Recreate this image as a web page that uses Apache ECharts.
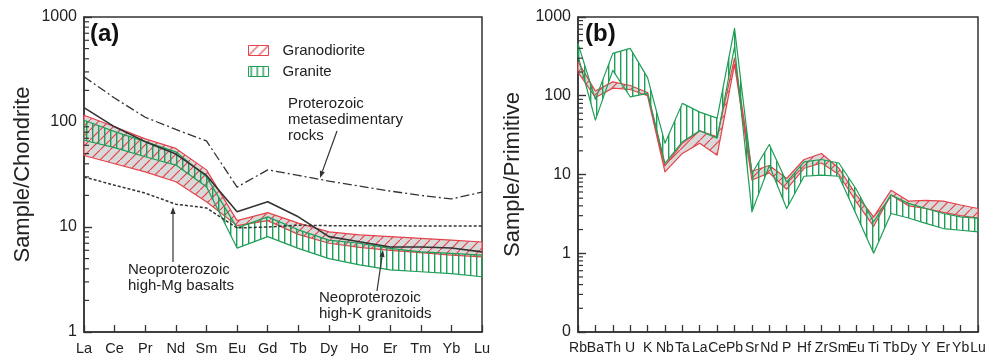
<!DOCTYPE html>
<html><head><meta charset="utf-8">
<script src="https://cdn.jsdelivr.net/npm/echarts@6/dist/echarts.min.js"></script>
<style>html,body{margin:0;padding:0;background:#fff}#c{width:1002px;height:360px}</style>
</head><body><div id="c"></div>
<script>
// ---------- data ----------
const reeCats = ['La','Ce','Pr','Nd','Sm','Eu','Gd','Tb','Dy','Ho','Er','Tm','Yb','Lu'];
const granodioriteReeUpper = [116, 90, 69, 56, 35, 11.5, 13.7, 10.9, 9.0, 8.4, 8.1, 7.8, 7.5, 7.2];
const granodioriteReeLower = [48, 40, 33.5, 27, 17.4, 10.3, 11.5, 8.5, 7.0, 6.4, 6.0, 5.7, 5.4, 5.2];
const graniteReeUpper = [104, 81, 65, 52, 30, 9.8, 12.5, 9.4, 7.5, 7.0, 6.25, 5.8, 5.6, 5.4];
const graniteReeLower = [67, 57, 46.7, 38.9, 24.2, 6.3, 8.1, 6.25, 5.0, 4.35, 3.9, 3.75, 3.6, 3.36];
const metasedRee = [270, 169, 111, 85, 66, 24, 35, 31, 27.4, 24.5, 22, 20, 18.5, 21.5];
const highKGranitoidRee = [137, 90, 65, 49.5, 31, 14, 17.4, 12.5, 8.1, 7.25, 6.45, 6.45, 6.3, 5.8];
const highMgBasaltRee = [30, 25, 21, 16.5, 15.2, 9.8, 10, 10.4, 10.3, 10.3, 10.3, 10.2, 10.2, 10.2];

const spiderCats = ['Rb','Ba','Th','U','K','Nb','Ta','La','Ce','Pb','Sr','Nd','P','Hf','Zr','Sm','Eu','Ti','Tb','Dy','Y','Er','Yb','Lu'];
const granodioriteSpUpper = [270, 115, 150, 135, 110, 13, 25, 36, 30, 300, 11, 13, 8.9, 15.5, 18.5, 12, 5.5, 2.9, 6.3, 4.6, 4.7, 4.6, 4.1, 3.7];
const granodioriteSpLower = [200, 95, 125, 120, 100, 10.8, 18.5, 25, 17.6, 250, 8.5, 10.5, 6.5, 12, 14, 10, 4.5, 2.2, 5.5, 4.0, 3.7, 3.3, 3.0, 2.8];
const graniteSpUpper = [460, 90, 345, 400, 170, 25, 80, 62, 52, 716, 10.3, 24, 8, 14.5, 15.5, 14, 6.5, 2.5, 5.5, 4.3, 3.7, 3.2, 2.9, 2.8];
const graniteSpLower = [320, 49, 210, 97, 107, 13.8, 26, 36, 29, 420, 3.35, 13, 3.7, 9.5, 9.8, 9.5, 3.1, 1.0, 3.2, 2.8, 2.4, 2.06, 1.96, 1.87];

const reeTickValues = [1, 10, 100, 1000];
const reeTickLabels = ['1', '10', '100', '1000'];
const spTickValues = [0.1, 1, 10, 100, 1000];
const spTickLabels = ['0', '1', '10', '100', '1000'];

// ---------- styles ----------
const RED = '#e5424a', GREEN = '#1e9e57', AXIS = '#333333', TXT = '#222';
const FONT = 'Liberation Sans, Arial, Helvetica, sans-serif';

function makeRedPattern(bg) {
  const c = document.createElement('canvas'); c.width = 10; c.height = 10;
  const g = c.getContext('2d');
  if (bg) { g.fillStyle = bg; g.fillRect(0, 0, 10, 10); }
  g.strokeStyle = RED; g.lineWidth = 1.2;
  g.beginPath(); g.moveTo(-1, 11); g.lineTo(11, -1); g.stroke();
  return {image: c, repeat: 'repeat'};
}
function makeGreenPattern() {
  const c = document.createElement('canvas'); c.width = 6; c.height = 6;
  const g = c.getContext('2d');
  g.fillStyle = GREEN; g.fillRect(2, 0, 1.4, 6);
  return {image: c, repeat: 'repeat'};
}
const redPat = makeRedPattern('#d9d9d9'), redLegendPat = makeRedPattern('#ffffff'), greenPat = makeGreenPattern();

function tickFormatter(vals, labels) {
  return function (v) {
    for (let i = 0; i < vals.length; i++) if (Math.abs(Math.log10(v) - Math.log10(vals[i])) < 1e-6) return labels[i];
    return '';
  };
}

function bandSeries(name, idx, cats, upper, lower, pattern, stroke) {
  return {
    type: 'custom', name, xAxisIndex: idx, yAxisIndex: idx,
    data: cats.map((c, i) => [i, upper[i], lower[i]]),
    encode: {x: 0, y: [1, 2]},
    silent: true, z: 2,
    itemStyle: {color: pattern, borderColor: stroke},
    renderItem: function (params, api) {
      if (params.dataIndex !== 0) return null;
      const pts = [];
      for (let i = 0; i < upper.length; i++) pts.push(api.coord([i, upper[i]]));
      for (let i = lower.length - 1; i >= 0; i--) pts.push(api.coord([i, lower[i]]));
      return {type: 'polygon', shape: {points: pts}, style: {fill: pattern, stroke: stroke, lineWidth: 1.2, lineJoin: 'round'}};
    }
  };
}

function lineSeries(data, dash, width) {
  return {type: 'line', xAxisIndex: 0, yAxisIndex: 0, data, symbol: 'none', silent: true, z: 4,
    lineStyle: {color: '#333', width: width, type: dash}};
}

function xAxisCfg(idx, cats, fontSize) {
  return {type: 'category', gridIndex: idx, data: cats, boundaryGap: false,
    axisLine: {show: true, lineStyle: {color: AXIS, width: 1.5}},
    axisTick: {show: true, inside: true, length: 7, lineStyle: {color: AXIS, width: 1.3}},
    axisLabel: {interval: 0, fontSize: fontSize, color: TXT, margin: 9, fontFamily: FONT},
    splitLine: {show: false}};
}
function yAxisCfg(idx, min, max, vals, labels, name, nameGap) {
  return {type: 'log', gridIndex: idx, min, max, logBase: 10, splitNumber: vals.length - 1,
    axisLine: {show: true, lineStyle: {color: AXIS, width: 1.5}},
    axisTick: {show: true, inside: true, length: 8, lineStyle: {color: AXIS, width: 1.4}},
    axisLabel: {fontSize: 16, color: TXT, margin: 7, fontFamily: FONT, formatter: tickFormatter(vals, labels)},
    splitLine: {show: false}, minorTick: {show: false},
    name, nameLocation: 'middle', nameRotate: 90, nameGap,
    nameTextStyle: {fontSize: 22, color: TXT, fontFamily: FONT}};
}

// ---------- arrows ----------
function arrow(x1, y1, x2, y2) {
  const ang = Math.atan2(y2 - y1, x2 - x1), L = 7, W = 2.6;
  const bx = x2 - L * Math.cos(ang), by = y2 - L * Math.sin(ang);
  const nx = -Math.sin(ang) * W, ny = Math.cos(ang) * W;
  return [
    {type: 'line', shape: {x1, y1, x2: bx, y2: by}, style: {stroke: '#333', lineWidth: 1.2}, z: 10},
    {type: 'polygon', shape: {points: [[x2, y2], [bx + nx, by + ny], [bx - nx, by - ny]]}, style: {fill: '#333'}, z: 10}
  ];
}
function label(x, y, text) {
  return {type: 'text', x, y, z: 10, style: {text, fontSize: 15, fontFamily: FONT, fill: TXT, lineHeight: 16, textVerticalAlign: 'top'}};
}

const baseGraphic = [
  {type: 'text', x: 90, y: 22, z: 10, style: {text: '(a)', fontSize: 24, fontWeight: 'bold', fontFamily: FONT, fill: '#111'}},
  {type: 'text', x: 585, y: 22, z: 10, style: {text: '(b)', fontSize: 24, fontWeight: 'bold', fontFamily: FONT, fill: '#111'}},
  label(288, 96, 'Proterozoic\nmetasedimentary\nrocks'),
  ...arrow(337, 131, 320, 178),
  label(128, 262, 'Neoproterozoic\nhigh-Mg basalts'),
  ...arrow(173, 262, 173, 207),
  label(319, 290, 'Neoproterozoic\nhigh-K granitoids'),
  ...arrow(377, 291, 383, 250)
];

const chart = echarts.init(document.getElementById('c'), null, {renderer: 'canvas'});
chart.setOption({
  animation: false,
  backgroundColor: '#fff',
  grid: [
    {left: 84, top: 17, width: 398, height: 315, show: true, borderColor: AXIS, borderWidth: 1.5, backgroundColor: 'transparent'},
    {left: 578, top: 17, width: 400, height: 315, show: true, borderColor: AXIS, borderWidth: 1.5, backgroundColor: 'transparent'}
  ],
  xAxis: [xAxisCfg(0, reeCats, 14.5), xAxisCfg(1, spiderCats, 14)],
  yAxis: [
    yAxisCfg(0, 1, 1000, reeTickValues, reeTickLabels, 'Sample/Chondrite', 50),
    yAxisCfg(1, 0.1, 1000, spTickValues, spTickLabels, 'Sample/Primitive', 54)
  ],
  legend: {
    left: 243, top: 38, orient: 'vertical', itemWidth: 20, itemHeight: 10, itemGap: 6, icon: 'rect',
    selectedMode: false,
    textStyle: {fontSize: 15, color: TXT, fontFamily: FONT, padding: [0, 0, 0, 9]},
    data: [
      {name: 'Granodiorite', itemStyle: {color: redLegendPat, borderColor: RED, borderWidth: 1}},
      {name: 'Granite', itemStyle: {color: greenPat, borderColor: GREEN, borderWidth: 1}}
    ]
  },
  series: [
    bandSeries('Granodiorite', 0, reeCats, granodioriteReeUpper, granodioriteReeLower, redPat, RED),
    bandSeries('Granite', 0, reeCats, graniteReeUpper, graniteReeLower, greenPat, GREEN),
    lineSeries(metasedRee, [9, 3, 2, 3], 1.3),
    lineSeries(highKGranitoidRee, 'solid', 1.6),
    lineSeries(highMgBasaltRee, [3, 2], 1.5),
    bandSeries('Granodiorite', 1, spiderCats, granodioriteSpUpper, granodioriteSpLower, redPat, RED),
    bandSeries('Granite', 1, spiderCats, graniteSpUpper, graniteSpLower, greenPat, GREEN)
  ],
  graphic: baseGraphic
});

// minor ticks of the log y axes (2..9 x 10^k), positioned through the axis scale
function yMinorTicks(gridIndex, majors) {
  const out = [];
  for (let i = 0; i < majors.length - 1; i++) {
    for (let m = 2; m <= 9; m++) {
      const p = chart.convertToPixel({gridIndex: gridIndex}, [0, majors[i] * m]);
      out.push({type: 'line', z: 20, silent: true, shape: {x1: p[0], y1: p[1], x2: p[0] + 5, y2: p[1]}, style: {stroke: AXIS, lineWidth: 1.2}});
    }
  }
  return out;
}
chart.setOption({graphic: baseGraphic.concat(yMinorTicks(0, reeTickValues), yMinorTicks(1, spTickValues))});
</script></body></html>
